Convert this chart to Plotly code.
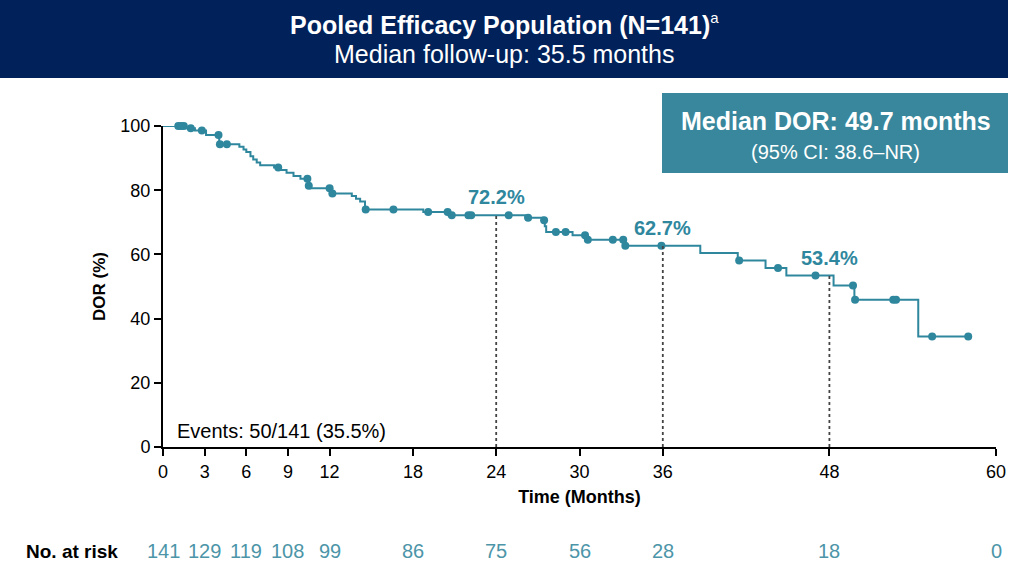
import numpy as np
import plotly.graph_objects as go

# ---- data ----
step_times = [0, 1.7, 2.3, 3.1, 4.05, 5.5, 5.8, 6.0, 6.3, 6.5, 6.75, 7.0, 8.0, 8.4, 8.9, 9.4, 9.9,
              10.45, 10.6, 12.1, 13.6, 13.9, 14.2, 14.55, 18.75, 20.55, 26.1, 27.4, 27.5, 27.6,
              29.5, 30.5, 33.2, 38.7, 41.4, 43.4, 44.9, 48.3, 49.8, 54.4]
step_surv = [100, 99.3, 98.6, 97.2, 94.3, 93.5, 92.7, 91.9, 90.6, 89.6, 88.6, 87.8, 87.1, 86.3, 85.4,
             84.4, 83.6, 81.4, 80.6, 79.0, 78.2, 77.3, 76.5, 74.0, 73.2, 72.2, 71.4, 70.6, 68.8,
             67.0, 66.0, 64.6, 62.7, 60.4, 58.1, 55.8, 53.4, 50.3, 45.9, 34.4]
end_time = 58.0
censor_times = [1.1, 1.3, 1.5, 2.0, 2.8, 4.0, 4.1, 4.6, 8.3, 10.4, 10.5, 12.0, 12.2, 14.6, 16.6,
                19.1, 20.5, 20.8, 22.0, 22.2, 24.9, 26.3, 27.45, 28.3, 29.0, 30.4, 30.6, 32.4,
                33.15, 33.3, 35.9, 41.5, 44.3, 47.0, 49.7, 49.85, 52.6, 52.8, 55.4, 58.0]
landmark_times = [24, 36, 48]
landmark_surv = [72.2, 62.7, 53.4]
landmark_labels = ["72.2%", "62.7%", "53.4%"]
x_ticks = [0, 3, 6, 9, 12, 18, 24, 30, 36, 48, 60]
risk_times = [0, 3, 6, 9, 12, 18, 24, 30, 36, 48, 60]
at_risk = [141, 129, 119, 108, 99, 86, 75, 56, 28, 18, 0]

TEAL = "#2f879e"
NAVY = "#00215a"
BOX = "#38879c"
RISK = "#4c95a8"
FONT = "Liberation Sans, Arial, sans-serif"

W, H = 1024, 573
L, R, T, B = 163, 28, 126, 126
PW, PH = W - L - R, H - T - B


def xp(px):
    return (px - L) / PW


def yp(py):
    return (H - B - py) / PH


def surv_at(t):
    idx = np.searchsorted(np.array(step_times), t, side="right") - 1
    return step_surv[idx]


xs, ys = [], []
for i, (t, s) in enumerate(zip(step_times, step_surv)):
    if i > 0:
        xs.append(t)
        ys.append(step_surv[i - 1])
    xs.append(t)
    ys.append(s)
xs.append(end_time)
ys.append(step_surv[-1])

fig = go.Figure()
fig.add_trace(go.Scatter(x=xs, y=ys, mode="lines", line=dict(color=TEAL, width=2),
                         hoverinfo="skip", showlegend=False, cliponaxis=False))
fig.add_trace(go.Scatter(x=censor_times, y=[surv_at(t) for t in censor_times], mode="markers",
                         marker=dict(color=TEAL, size=8), showlegend=False, cliponaxis=False))

for t, s, lab in zip(landmark_times, landmark_surv, landmark_labels):
    fig.add_shape(type="line", x0=t, x1=t, y0=0, y1=s, xref="x", yref="y",
                  line=dict(color="#444444", width=1.8, dash="dot"))
    fig.add_annotation(x=t, y=s, text="<b>%s</b>" % lab, showarrow=False, yshift=18,
                       xanchor="center", yanchor="middle",
                       font=dict(family=FONT, size=20, color=TEAL))


def note(px, py, text, size, color, bold=False, xanchor="center"):
    fig.add_annotation(xref="paper", yref="paper", x=xp(px), y=yp(py), showarrow=False,
                       xanchor=xanchor, yanchor="middle",
                       text=("<b>%s</b>" % text) if bold else text,
                       font=dict(family=FONT, size=size, color=color))


# header band
fig.add_shape(type="rect", xref="paper", yref="paper", x0=xp(0), x1=xp(1008), y0=yp(78), y1=yp(0),
              fillcolor=NAVY, line=dict(width=0), layer="below")
fig.add_annotation(xref="paper", yref="paper", x=xp(504), y=yp(24), showarrow=False,
                   xanchor="center", yanchor="middle",
                   text="<b>Pooled Efficacy Population (N=141)</b>"
                        "<sup><span style='font-size:15px'>a</span></sup>",
                   font=dict(family=FONT, size=25, color="white"))
note(504, 54, "Median follow-up: 35.5 months", 25, "white")
# median box
fig.add_shape(type="rect", xref="paper", yref="paper", x0=xp(662), x1=xp(1008), y0=yp(173), y1=yp(93),
              fillcolor=BOX, line=dict(width=0), layer="below")
note(836, 121, "Median DOR: 49.7 months", 25, "white", bold=True)
note(835, 152, "(95% CI: 38.6–NR)", 20, "white")
# events
note(175, 431, "Events: 50/141 (35.5%)", 20, "black", xanchor="left")
# number at risk
note(24, 551, "No. at risk", 19, "black", bold=True, xanchor="left")
for t, n in zip(risk_times, at_risk):
    fig.add_annotation(xref="x", yref="paper", x=t, y=yp(551), showarrow=False,
                       xanchor="center", yanchor="middle",
                       text=str(n), font=dict(family=FONT, size=20, color=RISK))

fig.update_layout(
    width=W, height=H, margin=dict(l=L, r=R, t=T, b=B),
    paper_bgcolor="white", plot_bgcolor="white",
    font=dict(family=FONT, size=18, color="black"),
    xaxis=dict(range=[0, 60], tickvals=x_ticks, ticktext=[str(v) for v in x_ticks],
               showgrid=False, zeroline=False, showline=True, linecolor="black", linewidth=2,
               ticks="outside", ticklen=7, tickwidth=2, tickcolor="black",
               tickfont=dict(family=FONT, size=18, color="black"),
               title=dict(text="<b>Time (Months)</b>", font=dict(family=FONT, size=18), standoff=10)),
    yaxis=dict(range=[0, 100], tickvals=[0, 20, 40, 60, 80, 100],
               showgrid=False, zeroline=False, showline=True, linecolor="black", linewidth=2,
               ticks="outside", ticklen=7, tickwidth=2, tickcolor="black",
               tickfont=dict(family=FONT, size=18, color="black"),
               title=dict(text="<b>DOR (%)</b>", font=dict(family=FONT, size=17), standoff=10)),
)

fig.write_html("out.html", config={"displayModeBar": False},
               post_script="document.body.style.margin='0px';")
